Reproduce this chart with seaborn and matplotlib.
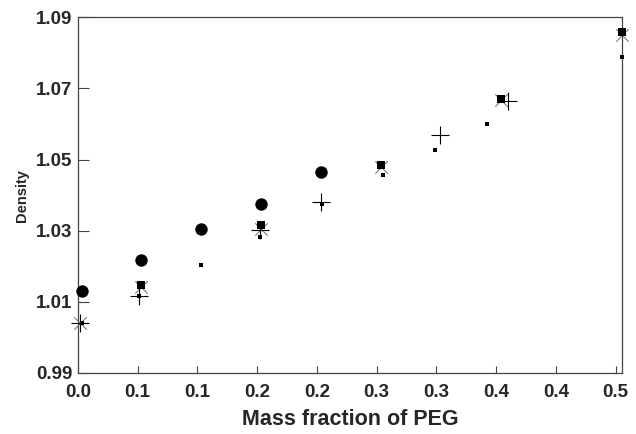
import matplotlib
matplotlib.use("Agg")
import matplotlib.pyplot as plt
import seaborn as sns
import pandas as pd

# ---- data ----
circle_x = [0.003, 0.053, 0.103, 0.153, 0.2035]
circle_y = [1.0131, 1.0217, 1.0304, 1.0375, 1.0465]

bigsq_x = [0.053, 0.153, 0.254, 0.354, 0.455]
bigsq_y = [1.0147, 1.0316, 1.0484, 1.0669, 1.0859]

cross_x = [0.002, 0.053, 0.153, 0.254, 0.354, 0.455]
cross_y = [1.0040, 1.0143, 1.0305, 1.0480, 1.0667, 1.0850]

plus_x = [0.002, 0.051, 0.152, 0.2035, 0.303, 0.3596]
plus_y = [1.0040, 1.0117, 1.0302, 1.0381, 1.0570, 1.0666]

smsq_x = [0.003, 0.051, 0.103, 0.152, 0.204, 0.255, 0.299, 0.342, 0.455]
smsq_y = [1.0040, 1.0117, 1.0203, 1.0283, 1.0374, 1.0456, 1.0528, 1.0599, 1.0789]

x_ticks = [0.0, 0.05, 0.10, 0.15, 0.20, 0.25, 0.30, 0.35, 0.40, 0.45]
x_tick_labels = ["0.0", "0.1", "0.1", "0.2", "0.2", "0.3", "0.3", "0.4", "0.4", "0.5"]
y_ticks = [0.99, 1.01, 1.03, 1.05, 1.07, 1.09]
y_tick_labels = ["0.99", "1.01", "1.03", "1.05", "1.07", "1.09"]

x_label = "Mass fraction of PEG"
y_label = "Density"

# ---- style ----
sns.set_style("ticks")
plt.rcParams["font.family"] = ["Liberation Sans", "DejaVu Sans"]
plt.rcParams["font.weight"] = "bold"

fig = plt.figure(figsize=(6.36, 4.34), dpi=100)
ax = fig.add_axes([0.1226, 0.1406, 0.8549, 0.8195])

sns.scatterplot(x=cross_x, y=cross_y, marker="x", s=80, linewidth=0.7,
                color="#6a6a6a", zorder=3, ax=ax, legend=False, clip_on=False)
sns.scatterplot(x=plus_x, y=plus_y, marker="+", s=150, linewidth=0.8,
                color="black", zorder=4, ax=ax, legend=False, clip_on=False)
sns.scatterplot(x=circle_x, y=circle_y, marker="o", s=80, linewidth=0,
                color="black", zorder=5, ax=ax, legend=False, clip_on=False)
sns.scatterplot(x=bigsq_x, y=bigsq_y, marker="s", s=40, linewidth=0,
                color="black", zorder=5, ax=ax, legend=False, clip_on=False)
sns.scatterplot(x=smsq_x, y=smsq_y, marker="s", s=10, linewidth=0,
                color="black", zorder=6, ax=ax, legend=False, clip_on=False)

ax.set_xlim(0, 0.455)
ax.set_ylim(0.99, 1.09)
ax.set_xticks(x_ticks)
ax.set_xticklabels(x_tick_labels)
ax.set_yticks(y_ticks)
ax.set_yticklabels(y_tick_labels)

for sp in ax.spines.values():
    sp.set_visible(True)
    sp.set_color("#444444")
    sp.set_linewidth(0.9)

ax.tick_params(axis="x", direction="in", length=5, width=0.8, color="#444444",
               labelsize=13.5, pad=8, top=False)
ax.tick_params(axis="y", direction="in", length=8, width=0.8, color="#444444",
               labelsize=13.5, pad=4, right=False)
for lab in ax.get_xticklabels() + ax.get_yticklabels():
    lab.set_fontweight("bold")

ax.set_xlabel(x_label, fontsize=15.5, fontweight="bold", labelpad=6)
ax.set_ylabel(y_label, fontsize=10.5, fontweight="bold", labelpad=5)

fig.savefig("out.png", dpi=100)
